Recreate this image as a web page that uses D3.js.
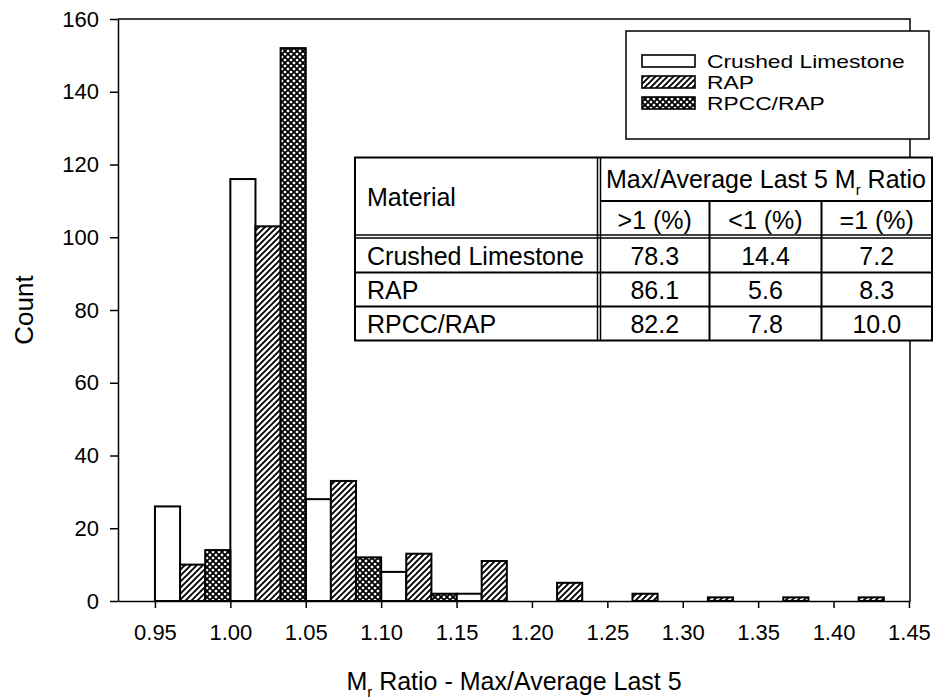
<!DOCTYPE html>
<html>
<head>
<meta charset="utf-8">
<script src="https://cdn.jsdelivr.net/npm/d3@7"></script>
<style>
  body { margin: 0; background: #fff; }
  svg { display: block; }
  text { font-family: "Liberation Sans", Arial, Helvetica, sans-serif; fill: #000; }
</style>
</head>
<body>
<svg id="chart" width="937" height="700"></svg>
<script>
// Histogram bins (lower edge of each 0.05-wide bin)
const binStarts = [0.95, 1.00, 1.05, 1.10, 1.15, 1.20, 1.25, 1.30, 1.35, 1.40];
// Counts per bin for each material
const crushedLimestone = [26, 116, 28, 8, 2, 0, 0, 0, 0, 0];
const rap              = [10, 103, 33, 13, 11, 5, 2, 1, 1, 1];
const rpccRap          = [14, 152, 12, 2, 0, 0, 0, 0, 0, 0];
const seriesNames = ["Crushed Limestone", "RAP", "RPCC/RAP"];

const xTickValues = [0.95, 1.00, 1.05, 1.10, 1.15, 1.20, 1.25, 1.30, 1.35, 1.40, 1.45];
const yTickValues = [0, 20, 40, 60, 80, 100, 120, 140, 160];

// Summary table
const tableMaterials = ["Crushed Limestone", "RAP", "RPCC/RAP"];
const pctAbove = ["78.3", "86.1", "82.2"];
const pctBelow = ["14.4", "5.6", "7.8"];
const pctEqual = ["7.2", "8.3", "10.0"];
const subHeaders = [">1  (%)", "<1 (%)", "=1 (%)"];

const binWidth = 0.05;
const svg = d3.select("#chart");

// ---- fill patterns ----
const defs = svg.append("defs");
const diag = defs.append("pattern").attr("id", "pat-diag")
  .attr("patternUnits", "userSpaceOnUse").attr("width", 6).attr("height", 6);
diag.append("rect").attr("width", 6).attr("height", 6).attr("fill", "#fff");
diag.append("path").attr("d", "M0,6 L6,0 M-1.5,1.5 L1.5,-1.5 M4.5,7.5 L7.5,4.5")
  .attr("stroke", "#000").attr("stroke-width", 1.9);

const cross = defs.append("pattern").attr("id", "pat-cross")
  .attr("patternUnits", "userSpaceOnUse").attr("width", 6).attr("height", 6);
cross.append("rect").attr("width", 6).attr("height", 6).attr("fill", "#fff");
cross.append("path").attr("d", "M0,6 L6,0 M-1.5,1.5 L1.5,-1.5 M4.5,7.5 L7.5,4.5 M0,0 L6,6 M-1.5,4.5 L1.5,7.5 M4.5,-1.5 L7.5,1.5")
  .attr("stroke", "#000").attr("stroke-width", 1.8);

const fills = ["#fff", "url(#pat-diag)", "url(#pat-cross)"];

// ---- scales ----
const plot = { left: 118, right: 910, top: 19, bottom: 601 };
const x = d3.scaleLinear().domain([0.9255, 1.4507]).range([plot.left, plot.right]);
const y = d3.scaleLinear().domain([0, 160]).range([plot.bottom, plot.top]);

// ---- bars: three side-by-side bars fill each bin ----
const seriesValues = [crushedLimestone, rap, rpccRap];
const barData = [];
seriesValues.forEach((vals, s) => {
  vals.forEach((v, i) => {
    if (v > 0) barData.push({ s, start: binStarts[i] + s * binWidth / 3, end: binStarts[i] + (s + 1) * binWidth / 3, v });
  });
});

svg.append("g").selectAll("rect").data(barData).join("rect")
  .attr("x", d => x(d.start))
  .attr("y", d => y(d.v))
  .attr("width", d => x(d.end) - x(d.start))
  .attr("height", d => y(0) - y(d.v))
  .attr("fill", d => fills[d.s])
  .attr("stroke", "#000")
  .attr("stroke-width", 2);

// ---- frame (top and right) ----
svg.append("path")
  .attr("d", `M${plot.left},${plot.top} H${plot.right} V${plot.bottom}`)
  .attr("fill", "none").attr("stroke", "#000").attr("stroke-width", 1.5);

// ---- axes ----
const yAxis = svg.append("g").attr("transform", `translate(${plot.left},0)`)
  .call(d3.axisLeft(y).tickValues(yTickValues).tickSize(8).tickSizeOuter(0).tickPadding(11));
const xAxis = svg.append("g").attr("transform", `translate(0,${plot.bottom})`)
  .call(d3.axisBottom(x).tickValues(xTickValues).tickSize(7).tickSizeOuter(0).tickPadding(16)
    .tickFormat(d3.format(".2f")));
[xAxis, yAxis].forEach(g => {
  g.selectAll("path.domain").attr("stroke", "#000").attr("stroke-width", 1.5);
  g.selectAll(".tick line").attr("stroke", "#000").attr("stroke-width", 1.5);
  g.selectAll(".tick text").style("font-size", "22px").attr("fill", "#000")
    .style("font-family", "'Liberation Sans', Arial, sans-serif");
});

// ---- axis titles ----
svg.append("text")
  .attr("transform", `translate(33,${(plot.top + plot.bottom) / 2}) rotate(-90)`)
  .attr("text-anchor", "middle").style("font-size", "26px").text("Count");

const xt = svg.append("text").attr("x", (plot.left + plot.right) / 2).attr("y", 690)
  .attr("text-anchor", "middle").style("font-size", "25px");
xt.append("tspan").text("M");
xt.append("tspan").attr("dy", 7).style("font-size", "15px").text("r");
xt.append("tspan").attr("dy", -7).text(" Ratio - Max/Average Last 5");

// ---- legend (compact rows, slightly widened lettering) ----
const lg = svg.append("g");
lg.append("rect").attr("x", 626).attr("y", 31).attr("width", 303).attr("height", 108)
  .attr("fill", "#fff").attr("stroke", "#000").attr("stroke-width", 1.5);
seriesNames.forEach((name, i) => {
  const cy = 61 + i * 21;
  lg.append("rect").attr("x", 642).attr("y", cy - 6).attr("width", 53).attr("height", 12)
    .attr("fill", fills[i]).attr("stroke", "#000").attr("stroke-width", 1.6);
  const t = lg.append("text").attr("x", 707).attr("y", cy).attr("dy", "0.36em")
    .style("font-size", "19px").text(name);
  const len = t.node().getComputedTextLength();
  t.attr("textLength", len * 1.2).attr("lengthAdjust", "spacingAndGlyphs");
});

// ---- summary table ----
const T = { left: 355, right: 932, top: 157.5, mid: 201, head: 236.5, bottom: 340.5,
            matCol: 597.5, cols: [600, 709.5, 821.5, 932] };
const rowEdges = [238.5, 272.5, 306.5, 340.5];
const tb = svg.append("g");
tb.append("rect").attr("x", T.left).attr("y", T.top).attr("width", T.right - T.left)
  .attr("height", T.bottom - T.top).attr("fill", "#fff").attr("stroke", "#000").attr("stroke-width", 2);
const line = (x1, y1, x2, y2, w) => tb.append("line").attr("x1", x1).attr("y1", y1)
  .attr("x2", x2).attr("y2", y2).attr("stroke", "#000").attr("stroke-width", w || 2);
// double vertical rule after the material column
line(T.matCol, T.top, T.matCol, T.bottom, 1.5);
line(T.cols[0] + 0.5, T.top, T.cols[0] + 0.5, T.bottom, 1.5);
// header rules
line(T.cols[0], T.mid, T.right, T.mid);
line(T.left, T.head - 1.5, T.right, T.head - 1.5, 1.5);
line(T.left, T.head + 1.5, T.right, T.head + 1.5, 1.5);
line(T.cols[1], T.mid, T.cols[1], T.bottom);
line(T.cols[2], T.mid, T.cols[2], T.bottom);
line(T.left, rowEdges[1], T.right, rowEdges[1]);
line(T.left, rowEdges[2], T.right, rowEdges[2]);

const tText = (tx, ty, str, anchor) => tb.append("text").attr("x", tx).attr("y", ty)
  .attr("dy", "0.36em").attr("text-anchor", anchor || "middle").style("font-size", "25px").text(str);

tText(367, (T.top + T.head) / 2, "Material", "start");
const hdr = tb.append("text").attr("x", (T.cols[0] + T.right) / 2).attr("y", (T.top + T.mid) / 2)
  .attr("dy", "0.36em").attr("text-anchor", "middle").style("font-size", "25px");
hdr.append("tspan").text("Max/Average Last 5 M");
hdr.append("tspan").attr("dy", 7).style("font-size", "15px").text("r");
hdr.append("tspan").attr("dy", -7).text(" Ratio");
subHeaders.forEach((h, j) => tText((T.cols[j] + T.cols[j + 1]) / 2, (T.mid + T.head) / 2 + 1, h));

const colsData = [pctAbove, pctBelow, pctEqual];
tableMaterials.forEach((m, r) => {
  const cy = (rowEdges[r] + rowEdges[r + 1]) / 2;
  tText(367, cy, m, "start");
  colsData.forEach((col, j) => tText((T.cols[j] + T.cols[j + 1]) / 2, cy, col[r]));
});
</script>
</body>
</html>
